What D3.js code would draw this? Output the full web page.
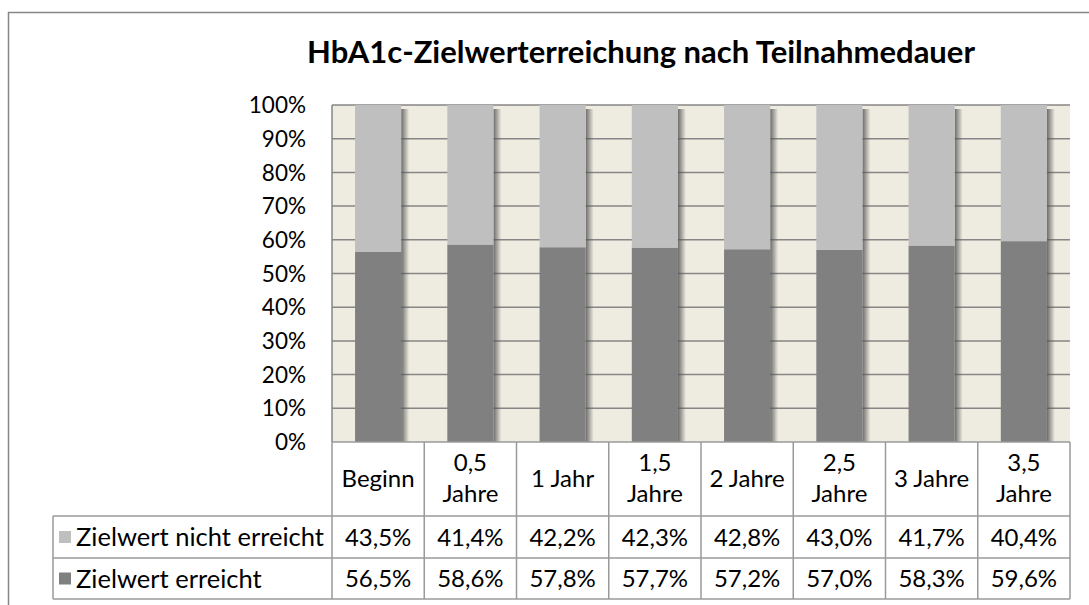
<!DOCTYPE html>
<html>
<head>
<meta charset="utf-8">
<script src="https://cdn.jsdelivr.net/npm/d3@7"></script>
<style>
  body { margin: 0; background: #fff; }
  svg { display: block; font-family: Lato, "Open Sans", sans-serif; }
</style>
</head>
<body>
<div class="graphic"></div>
<script>
const title = "HbA1c-Zielwerterreichung nach Teilnahmedauer";
const categories = [["Beginn"], ["0,5", "Jahre"], ["1 Jahr"], ["1,5", "Jahre"], ["2 Jahre"], ["2,5", "Jahre"], ["3 Jahre"], ["3,5", "Jahre"]];
const erreicht = [56.5, 58.6, 57.8, 57.7, 57.2, 57.0, 58.3, 59.6];
const nichtErreicht = [43.5, 41.4, 42.2, 42.3, 42.8, 43.0, 41.7, 40.4];
const seriesNames = ["Zielwert nicht erreicht", "Zielwert erreicht"];
const yTicks = [0, 10, 20, 30, 40, 50, 60, 70, 80, 90, 100];

const W = 1089, H = 605;
const plotL = 332, plotR = 1070, plotT = 105, plotB = 442;
const headerB = 516, row1B = 558, row2B = 599, tableL = 53;
const cLight = "#bfbfbf", cDark = "#808080", gridC = "#868686", tableC = "#9a9a9a";
const tableFont = 24;

const fmt = v => v.toFixed(1).replace(".", ",") + "%";

var svg = d3.select(".graphic")
  .append("svg")
  .attr("width", W)
  .attr("height", H);

// shadow gradient
var defs = svg.append("defs");
var grad = defs.append("linearGradient").attr("id", "shadow")
  .attr("x1", 0).attr("x2", 1).attr("y1", 0).attr("y2", 0);
grad.append("stop").attr("offset", "0%").attr("stop-color", "#555").attr("stop-opacity", 0.85);
grad.append("stop").attr("offset", "100%").attr("stop-color", "#555").attr("stop-opacity", 0);

// outer chart border
svg.append("rect")
  .attr("x", 8.5).attr("y", 12.5)
  .attr("width", 1100).attr("height", 700)
  .attr("fill", "#fff")
  .attr("stroke", "#868686")
  .attr("stroke-width", 1.5);

var x = d3.scaleBand()
  .domain(d3.range(categories.length))
  .range([plotL, plotR])
  .paddingInner(0.5)
  .paddingOuter(0.25);

var y = d3.scaleLinear()
  .domain([0, 100])
  .range([plotB, plotT]);

// plot background
svg.append("rect")
  .attr("x", plotL).attr("y", plotT)
  .attr("width", plotR - plotL).attr("height", plotB - plotT)
  .attr("fill", "#eeebe0");

// gridlines
svg.selectAll("line.grid")
  .data(yTicks.filter(d => d > 0))
  .enter()
  .append("line")
  .attr("class", "grid")
  .attr("x1", plotL).attr("x2", plotR)
  .attr("y1", d => y(d)).attr("y2", d => y(d))
  .attr("stroke", gridC)
  .attr("stroke-width", 1.5);

// y axis labels
svg.selectAll("text.ytick")
  .data(yTicks)
  .enter()
  .append("text")
  .attr("class", "ytick")
  .attr("x", 306)
  .attr("y", d => y(d))
  .attr("dy", "0.36em")
  .attr("text-anchor", "end")
  .attr("font-size", 22.5)
  .attr("fill", "#000")
  .text(d => d + "%");

// bar shadows
svg.selectAll("rect.shadow")
  .data(erreicht)
  .enter()
  .append("rect")
  .attr("class", "shadow")
  .attr("x", (d, i) => x(i) + x.bandwidth())
  .attr("y", y(100) + 4)
  .attr("width", 8)
  .attr("height", plotB - y(100) - 4)
  .attr("fill", "url(#shadow)");

// stacked bars
svg.selectAll("rect.dark")
  .data(erreicht)
  .enter()
  .append("rect")
  .attr("class", "dark")
  .attr("x", (d, i) => x(i))
  .attr("y", d => y(d))
  .attr("width", x.bandwidth())
  .attr("height", d => y(0) - y(d))
  .attr("fill", cDark);

svg.selectAll("rect.light")
  .data(nichtErreicht)
  .enter()
  .append("rect")
  .attr("class", "light")
  .attr("x", (d, i) => x(i))
  .attr("y", (d, i) => y(erreicht[i] + d))
  .attr("width", x.bandwidth())
  .attr("height", (d, i) => y(erreicht[i]) - y(erreicht[i] + d))
  .attr("fill", cLight);

// axis line
svg.append("line")
  .attr("x1", plotL).attr("x2", plotL)
  .attr("y1", plotT).attr("y2", plotB)
  .attr("stroke", gridC).attr("stroke-width", 1.5);

// data table
var step = x.step();
var colEdges = d3.range(categories.length + 1).map(i => plotL + i * step);
var tbl = svg.append("g").attr("stroke", tableC).attr("stroke-width", 1.5);
colEdges.forEach(cx => {
  tbl.append("line").attr("x1", cx).attr("x2", cx).attr("y1", plotB).attr("y2", row2B);
});
tbl.append("line").attr("x1", plotL).attr("x2", plotR).attr("y1", plotB).attr("y2", plotB);
[headerB, row1B, row2B].forEach(ry => {
  tbl.append("line").attr("x1", tableL).attr("x2", plotR).attr("y1", ry).attr("y2", ry);
});
tbl.append("line").attr("x1", tableL).attr("x2", tableL).attr("y1", headerB).attr("y2", row2B);

// category labels
svg.selectAll("text.cat")
  .data(categories)
  .enter()
  .append("text")
  .attr("class", "cat")
  .attr("text-anchor", "middle")
  .attr("font-size", tableFont)
  .each(function(d, i) {
    var t = d3.select(this);
    var cx = x(i) + x.bandwidth() / 2;
    var cy = (plotB + headerB) / 2 - 1;
    d.forEach((line, j) => {
      t.append("tspan")
        .attr("x", cx)
        .attr("y", cy + (j - (d.length - 1) / 2) * 31)
        .attr("dy", "0.36em")
        .text(line);
    });
  });

// value rows
var rows = [nichtErreicht, erreicht];
var rowMid = [(headerB + row1B) / 2, (row1B + row2B) / 2];
var rowColors = [cLight, cDark];
rows.forEach((vals, r) => {
  svg.selectAll("text.val" + r)
    .data(vals)
    .enter()
    .append("text")
    .attr("class", "val" + r)
    .attr("x", (d, i) => x(i) + x.bandwidth() / 2)
    .attr("y", rowMid[r])
    .attr("dy", "0.36em")
    .attr("text-anchor", "middle")
    .attr("font-size", tableFont)
    .text(d => fmt(d));

  svg.append("rect")
    .attr("x", 59).attr("y", rowMid[r] - 6)
    .attr("width", 12).attr("height", 12)
    .attr("fill", rowColors[r]);
  svg.append("text")
    .attr("x", 76)
    .attr("y", rowMid[r])
    .attr("dy", "0.36em")
    .attr("font-size", 25.5)
    .text(seriesNames[r]);
});

// title
svg.append("text")
  .attr("x", 641)
  .attr("y", 63)
  .attr("text-anchor", "middle")
  .attr("font-size", 31)
  .attr("font-weight", "bold")
  .text(title);
</script>
</body>
</html>
